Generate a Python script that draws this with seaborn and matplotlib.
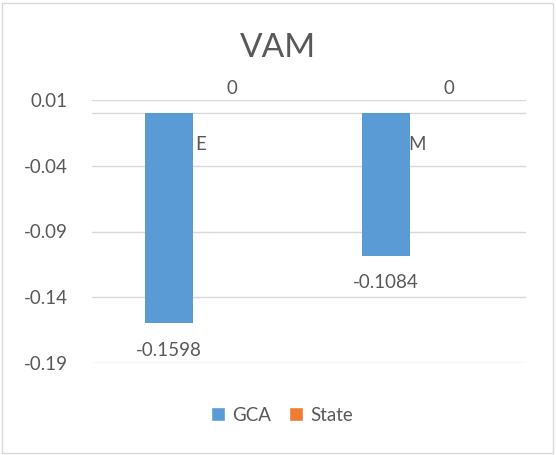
import matplotlib
matplotlib.use("Agg")
import matplotlib.pyplot as plt
from matplotlib.patches import Patch, Rectangle
import pandas as pd
import seaborn as sns

# ── Data ───────────────────────────────────────────────────────────────
categories = ["E", "M"]
series = ["GCA", "State"]
gca_values = [-0.1598, -0.1084]
state_values = [0, 0]
y_ticks = [0.01, -0.04, -0.09, -0.14, -0.19]

COLORS = {"GCA": "#5B9BD5", "State": "#ED7D31"}
TEXT = "#595959"
GRID = "#D9D9D9"
FS = 13.5

sns.set_theme(style="white")
plt.rcParams["font.family"] = ["Lato", "DejaVu Sans"]

df = pd.DataFrame({
    "category": categories * 2,
    "series": ["GCA"] * len(categories) + ["State"] * len(categories),
    "value": gca_values + state_values,
})

fig = plt.figure(figsize=(5.56, 4.55), dpi=100)
ax = fig.add_axes([91.7 / 556, 1 - 362.7 / 455, 434.3 / 556, 262.4 / 455])

sns.barplot(
    data=df, x="category", y="value", hue="series", order=categories,
    hue_order=series, palette=COLORS, width=0.576, gap=0.233,
    saturation=1, legend=False, linewidth=0, ax=ax,
)

ax.set_xlim(-0.5, 1.5)
ax.set_ylim(-0.19, 0.01)
ax.set_yticks(y_ticks)
ax.set_yticklabels([f"{t:g}" for t in y_ticks], color=TEXT, fontsize=FS)
ax.tick_params(axis="y", length=0, pad=17)
ax.set_xticks([])
ax.set_xlabel("")
ax.set_ylabel("")
for s in ax.spines.values():
    s.set_visible(False)
ax.yaxis.grid(True, color=GRID, linewidth=1)
ax.set_axisbelow(True)
ax.axhline(0, color=GRID, linewidth=1, zorder=0.5)

# category labels just below the zero line
for i, c in enumerate(categories):
    ax.text(i, -0.024, c, ha="center", va="center", color=TEXT, fontsize=FS)

# data labels
for container in ax.containers:
    for bar in container:
        v = bar.get_height()
        xc = bar.get_x() + bar.get_width() / 2
        dy = -27 if v < 0 else 25
        ax.annotate(
            f"{v:g}", (xc, v), xytext=(0, dy),
            textcoords="offset pixels", ha="center", va="center",
            color=TEXT, fontsize=FS, annotation_clip=False,
        )

fig.text(0.5, 1 - 48 / 455, "VAM", ha="center", va="center",
         color=TEXT, fontsize=24)

handles = [Patch(facecolor=COLORS[s], label=s) for s in series]
leg = fig.legend(
    handles=handles, loc="center", bbox_to_anchor=(0.507, 1 - 415 / 455),
    ncol=2, frameon=False, fontsize=FS, handlelength=0.75, handleheight=1.0,
    handletextpad=0.35, columnspacing=1.0,
)
for t in leg.get_texts():
    t.set_color(TEXT)
sq = 14 * 72 / 100
for h in leg.legend_handles:
    h.set_y(h.get_y() + (h.get_height() - sq) / 2)
    h.set_height(sq)
    h.set_width(sq)

fig.patches.append(Rectangle((2 / 556, 2 / 455), 551 / 556, 450 / 455,
                             transform=fig.transFigure, fill=False,
                             edgecolor=GRID, linewidth=1))

fig.savefig("out.png", dpi=100)
